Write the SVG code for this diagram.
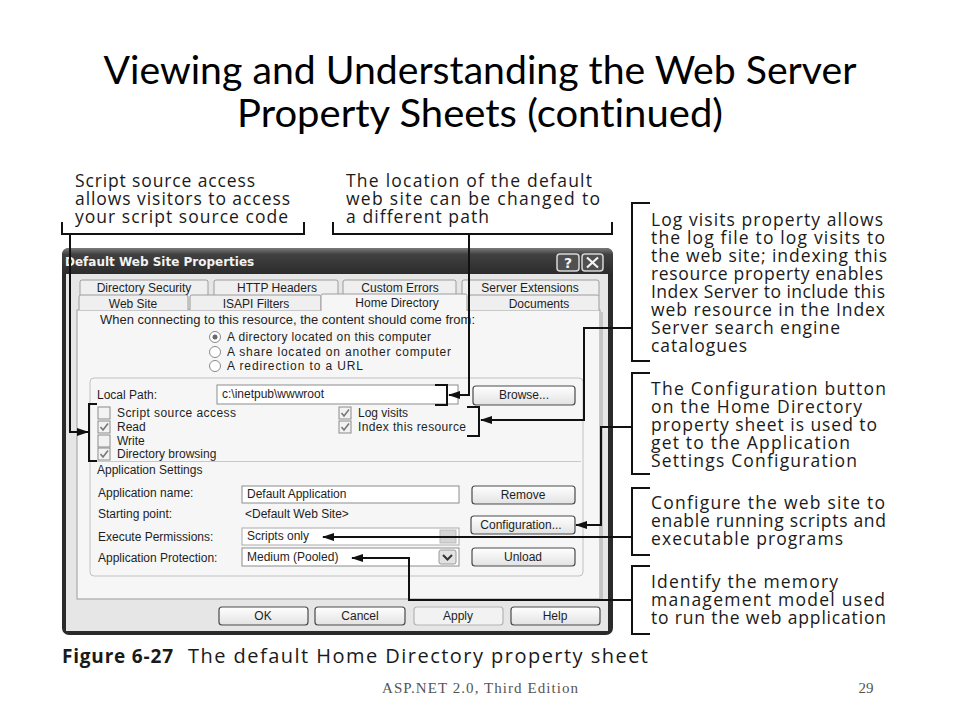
<svg xmlns="http://www.w3.org/2000/svg" width="960" height="720" viewBox="0 0 960 720">
<defs>
  <marker id="ah" viewBox="0 0 12 8" refX="11" refY="4" markerWidth="12" markerHeight="8" markerUnits="userSpaceOnUse" orient="auto">
    <path d="M0,0 L12,4 L0,8 z" fill="#111"/>
  </marker>
  <linearGradient id="tb" x1="0" y1="0" x2="0" y2="1">
    <stop offset="0" stop-color="#7a7a7a"/>
    <stop offset="0.25" stop-color="#404040"/>
    <stop offset="1" stop-color="#2c2c2c"/>
  </linearGradient>
  <linearGradient id="bg" x1="0" y1="0" x2="0" y2="1">
    <stop offset="0" stop-color="#ffffff"/>
    <stop offset="1" stop-color="#e2e2e2"/>
  </linearGradient>
</defs>
<style>
  text{font-variant-ligatures:none}
  .ttl{font-family:Lato,"Open Sans","Liberation Sans",sans-serif;font-size:38px;fill:#000}
  .co{font-family:"Open Sans","DejaVu Sans",sans-serif;font-size:17.5px;fill:#1a1a1a}
  .ui{font-family:"Liberation Sans",Arial,sans-serif;font-size:12px;fill:#1e1e1e}
  .mid{text-anchor:middle}
  .br{fill:none;stroke:#111;stroke-width:2}
  .cn{fill:none;stroke:#111;stroke-width:2}
  .btn{fill:url(#bg);stroke:#4a4a4a;stroke-width:1.2}
  .box{fill:#fff;stroke:#8c8c8c;stroke-width:1}
  .cb{fill:#f2f2f2;stroke:#8a8a8a;stroke-width:1}
  .ck{fill:none;stroke:#777;stroke-width:1.6}
  .tab{fill:#efefef;stroke:#9c9c9c;stroke-width:1}
</style>
<rect x="0" y="0" width="960" height="720" fill="#fff"/>

<g id="title">
  <text class="ttl mid" x="480" y="84" textLength="753" lengthAdjust="spacingAndGlyphs">Viewing and Understanding the Web Server</text>
  <text class="ttl mid" x="480" y="127" textLength="486" lengthAdjust="spacingAndGlyphs">Property Sheets (continued)</text>
</g>

<g id="dialog">
  <rect x="62" y="248" width="551" height="387" rx="7" fill="#2a2a2a"/>
  <rect x="66" y="274" width="542" height="357" fill="#e6e6e6"/>
  <path d="M62,274 V255 Q62,248 69,248 H606 Q613,248 613,255 V274 Z" fill="url(#tb)"/>
  <text x="65" y="266" font-family="'DejaVu Sans',Verdana,sans-serif" font-size="12" font-weight="bold" fill="#f2f2f2">Default Web Site Properties</text>
  <rect x="557" y="254" width="22" height="17" rx="3" fill="#505050" stroke="#d8d8d8" stroke-width="1.5"/>
  <text x="568" y="268" class="mid" font-family="'DejaVu Sans',sans-serif" font-size="14" font-weight="bold" fill="#f4f4f4">?</text>
  <rect x="582" y="254" width="21" height="17" rx="3" fill="#505050" stroke="#d8d8d8" stroke-width="1.5"/>
  <path d="M587,257.5 L598,267.5 M598,257.5 L587,267.5" stroke="#f4f4f4" stroke-width="2.2"/>

  <g id="tabs">
    <path class="tab" d="M80,296 V282 Q80,280 82,280 H206 Q208,280 208,282 V296"/>
    <path class="tab" d="M214,296 V282 Q214,280 216,280 H336 Q338,280 338,282 V296"/>
    <path class="tab" d="M343,296 V282 Q343,280 345,280 H454 Q456,280 456,282 V296"/>
    <path class="tab" d="M462,296 V282 Q462,280 464,280 H597 Q599,280 599,282 V296"/>
    <text class="ui mid" x="144" y="292">Directory Security</text>
    <text class="ui mid" x="277" y="292">HTTP Headers</text>
    <text class="ui mid" x="400" y="292">Custom Errors</text>
    <text class="ui mid" x="530" y="292">Server Extensions</text>
  </g>

  <rect x="77" y="310" width="523" height="289" fill="#f6f6f6" stroke="#9c9c9c" stroke-width="1"/>
  <line x1="601.5" y1="312" x2="601.5" y2="600" stroke="#c4c4c4" stroke-width="3"/>

  <g id="tabs2">
    <path class="tab" d="M79,310 V297 Q79,295 81,295 H186 Q188,295 188,297 V310"/>
    <path class="tab" d="M190,310 V297 Q190,295 192,295 H319 Q321,295 321,297 V310"/>
    <path class="tab" d="M469,310 V297 Q469,295 471,295 H597 Q599,295 599,297 V310"/>
    <path d="M321,311 V295.5 Q321,294 323,294 H465 Q467,294 467,295.5 V311" fill="#f6f6f6" stroke="#9c9c9c" stroke-width="1"/>
    <text class="ui mid" x="133" y="308">Web Site</text>
    <text class="ui mid" x="256" y="308">ISAPI Filters</text>
    <text class="ui mid" x="397" y="306.5">Home Directory</text>
    <text class="ui mid" x="539" y="308">Documents</text>
  </g>

  <text class="ui" x="100" y="324" textLength="375" lengthAdjust="spacingAndGlyphs">When connecting to this resource, the content should come from:</text>

  <g id="radios">
    <circle cx="215" cy="337" r="5.5" fill="#fff" stroke="#8a8a8a"/>
    <circle cx="215" cy="337" r="2.5" fill="#6a6a6a"/>
    <circle cx="215" cy="352" r="5.5" fill="#fff" stroke="#8a8a8a"/>
    <circle cx="215" cy="366" r="5.5" fill="#fff" stroke="#8a8a8a"/>
    <text class="ui" x="227" y="341" font-size="11" textLength="204">A directory located on this computer</text>
    <text class="ui" x="227" y="356" font-size="11" textLength="224">A share located on another computer</text>
    <text class="ui" x="227" y="370" font-size="11" textLength="136">A redirection to a URL</text>
  </g>

  <rect x="90" y="378" width="493" height="198" rx="4" fill="none" stroke="#c2c2c2" stroke-width="1"/>

  <g id="localpath">
    <text class="ui" x="97" y="399">Local Path:</text>
    <rect class="box" x="217" y="385" width="241" height="19"/>
    <text class="ui" x="222" y="398" font-size="10.5">c:\inetpub\wwwroot</text>
    <rect class="btn" x="473" y="386" width="102" height="19" rx="3"/>
    <text class="ui mid" x="524" y="399">Browse...</text>
  </g>

  <g id="checks">
    <rect class="cb" x="98" y="407" width="12" height="12"/>
    <rect class="cb" x="98" y="421" width="12" height="12"/>
    <path class="ck" d="M100.5,427 L103,430 L108,423.5"/>
    <rect class="cb" x="98" y="435" width="12" height="12"/>
    <rect class="cb" x="98" y="448" width="12" height="12"/>
    <path class="ck" d="M100.5,454 L103,457 L108,450.5"/>
    <text class="ui" x="117" y="417" textLength="119">Script source access</text>
    <text class="ui" x="117" y="431">Read</text>
    <text class="ui" x="117" y="445">Write</text>
    <text class="ui" x="117" y="458">Directory browsing</text>
    <rect class="cb" x="339" y="407" width="12" height="12"/>
    <path class="ck" d="M341.5,413 L344,416 L349,409.5"/>
    <rect class="cb" x="339" y="421" width="12" height="12"/>
    <path class="ck" d="M341.5,427 L344,430 L349,423.5"/>
    <text class="ui" x="358" y="417">Log visits</text>
    <text class="ui" x="358" y="431" textLength="108">Index this resource</text>
  </g>

  <line x1="96" y1="461.5" x2="581" y2="461.5" stroke="#c8c8c8" stroke-width="1"/>
  <text class="ui" x="97" y="474">Application Settings</text>

  <g id="appsettings">
    <text class="ui" x="98" y="497">Application name:</text>
    <rect class="box" x="242" y="486" width="217" height="17"/>
    <text class="ui" x="247" y="498">Default Application</text>
    <rect class="btn" x="472" y="486" width="103" height="18" rx="3"/>
    <text class="ui mid" x="523" y="499">Remove</text>

    <text class="ui" x="98" y="518">Starting point:</text>
    <text class="ui" x="245" y="518">&lt;Default Web Site&gt;</text>
    <rect class="btn" x="471" y="516" width="104" height="18" rx="3"/>
    <text class="ui mid" x="521" y="529">Configuration...</text>

    <text class="ui" x="98" y="541" fill="#555">Execute Permissions:</text>
    <rect x="242" y="528" width="217" height="17" fill="#fff" stroke="#aaa"/>
    <text class="ui" x="247" y="540" font-size="11" fill="#444">Scripts only</text>
    <rect x="440" y="530" width="16" height="13" fill="#d4d4d4" stroke="#bbb"/>

    <text class="ui" x="98" y="562">Application Protection:</text>
    <rect class="box" x="242" y="548" width="217" height="18"/>
    <text class="ui" x="247" y="561" font-size="12.5">Medium (Pooled)</text>
    <rect x="439" y="550" width="17" height="14" rx="2" fill="#e2e2e2" stroke="#9a9a9a"/>
    <path d="M443,555 L447.5,559.5 L452,555" fill="none" stroke="#333" stroke-width="2"/>
    <rect class="btn" x="472" y="548" width="103" height="18" rx="3"/>
    <text class="ui mid" x="523" y="561">Unload</text>
  </g>

  <g id="buttons">
    <rect class="btn" x="219" y="607" width="89" height="18" rx="3"/>
    <text class="ui mid" x="263" y="620">OK</text>
    <rect class="btn" x="315" y="607" width="90" height="18" rx="3"/>
    <text class="ui mid" x="360" y="620">Cancel</text>
    <rect x="414" y="607" width="89" height="18" rx="3" fill="#f2f2f2" stroke="#b4b4b4" stroke-width="1.2"/>
    <text class="ui mid" x="458" y="620" fill="#a8a8a8">Apply</text>
    <rect class="btn" x="511" y="607" width="89" height="18" rx="3"/>
    <text class="ui mid" x="555" y="620">Help</text>
  </g>
</g>

<g id="callout-script">
  <text class="co" x="75" y="187" textLength="180">Script source access</text>
  <text class="co" x="75" y="205" textLength="215">allows visitors to access</text>
  <text class="co" x="75" y="223" textLength="213">your script source code</text>
</g>
<g id="callout-location">
  <text class="co" x="346" y="187" textLength="246">The location of the default</text>
  <text class="co" x="346" y="205" textLength="254">web site can be changed to</text>
  <text class="co" x="346" y="223" textLength="143">a different path</text>
</g>
<g id="callout-logvisits">
  <text class="co" x="651" y="226" textLength="232">Log visits property allows</text>
  <text class="co" x="651" y="244" textLength="234">the log file to log visits to</text>
  <text class="co" x="651" y="262" textLength="236">the web site; indexing this</text>
  <text class="co" x="651" y="280" textLength="232">resource property enables</text>
  <text class="co" x="651" y="298" textLength="234">Index Server to include this</text>
  <text class="co" x="651" y="316" textLength="234">web resource in the Index</text>
  <text class="co" x="651" y="334" textLength="189">Server search engine</text>
  <text class="co" x="651" y="352" textLength="96">catalogues</text>
</g>
<g id="callout-configuration">
  <text class="co" x="651" y="395" textLength="235">The Configuration button</text>
  <text class="co" x="651" y="413" textLength="211">on the Home Directory</text>
  <text class="co" x="651" y="431" textLength="226">property sheet is used to</text>
  <text class="co" x="651" y="449" textLength="199">get to the Application</text>
  <text class="co" x="651" y="467" textLength="206">Settings Configuration</text>
</g>
<g id="callout-configure">
  <text class="co" x="651" y="509" textLength="234">Configure the web site to</text>
  <text class="co" x="651" y="527" textLength="235">enable running scripts and</text>
  <text class="co" x="651" y="545" textLength="192">executable programs</text>
</g>
<g id="callout-memory">
  <text class="co" x="651" y="588" textLength="187">Identify the memory</text>
  <text class="co" x="651" y="606" textLength="234">management model used</text>
  <text class="co" x="651" y="624" textLength="235">to run the web application</text>
</g>

<g id="connectors">
  <path class="br" d="M62,222 V234 H304 V222"/>
  <path class="br" d="M333,222 V234 H612 V222"/>
  <path class="br" d="M650,203 H632 V361 H650"/>
  <path class="br" d="M650,373 H632 V474 H650"/>
  <path class="br" d="M650,488 H632 V555 H650"/>
  <path class="br" d="M650,566 H632 V634 H650"/>
  <path class="br" d="M97,404 H89 V461 H97"/>
  <path class="br" d="M435,385 H447 V405 H435"/>
  <path class="br" d="M467,407 H479 V436 H467"/>
  <path class="cn" d="M70,234 V432 H88" marker-end="url(#ah)"/>
  <path class="cn" d="M469,234 V395 H449" marker-end="url(#ah)"/>
  <path class="cn" d="M632,328 H584 V420 H481" marker-end="url(#ah)"/>
  <path class="cn" d="M632,427 H601 V525 H576" marker-end="url(#ah)"/>
  <path class="cn" d="M632,537 H323" marker-end="url(#ah)"/>
  <path class="cn" d="M632,600 H409 V558 H352" marker-end="url(#ah)"/>
</g>

<g id="caption">
  <text x="62" y="663" font-family="'Open Sans',sans-serif" font-size="19" font-weight="bold" fill="#1a1a1a" textLength="111">Figure 6-27</text>
  <text x="188" y="663" font-family="'Open Sans',sans-serif" font-size="20" fill="#1a1a1a" textLength="460">The default Home Directory property sheet</text>
</g>
<g id="footer">
  <text x="480" y="693" text-anchor="middle" font-family="'Liberation Serif',serif" font-size="15" fill="#555" textLength="196">ASP.NET 2.0, Third Edition</text>
  <text x="866" y="693" text-anchor="middle" font-family="'Liberation Serif',serif" font-size="15" fill="#555">29</text>
</g>
</svg>
